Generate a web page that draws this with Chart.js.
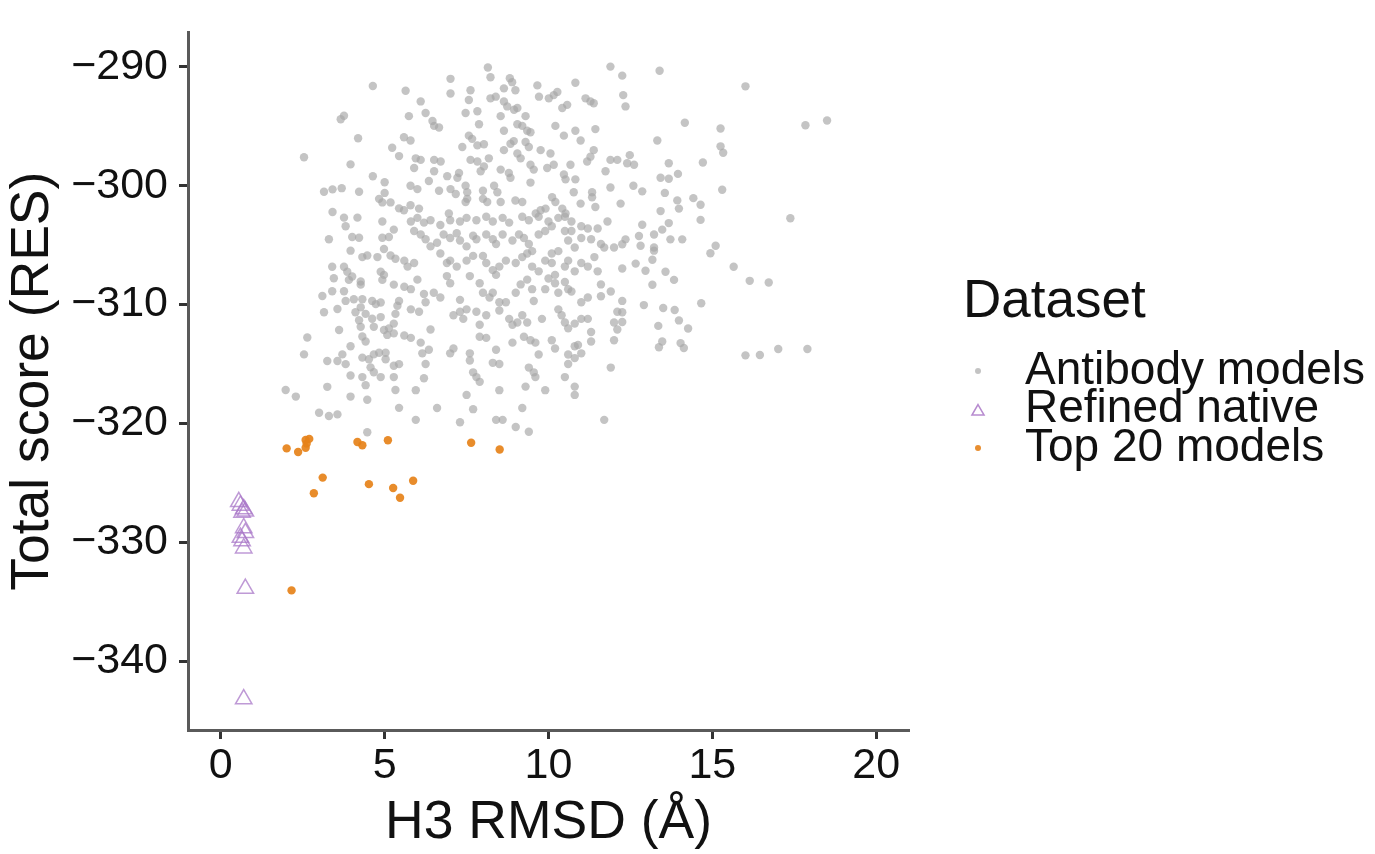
<!DOCTYPE html>
<html>
<head>
<meta charset="utf-8">
<script src="https://cdn.jsdelivr.net/npm/chart.js@4/dist/chart.umd.min.js"></script>
<style>
  html, body { margin: 0; padding: 0; background: #fff; }
  canvas { display: block; }
</style>
</head>
<body>
<canvas id="chart" width="1375" height="854"></canvas>
<script>
(() => {
  "use strict";

  const FONT = "'Liberation Sans', Arial, Helvetica, sans-serif";

  // Axis ticks
  const xTicks = [0, 5, 10, 15, 20];
  const yTicks = [-290, -300, -310, -320, -330, -340];

  const seriesNames = ["Antibody models", "Refined native", "Top 20 models"];
  const legendTitle = "Dataset";

  // [H3 RMSD, total score]
  const antibodyModels = [
    [4.64,-291.6],[3.76,-294.1],[3.66,-294.4],[4.19,-296.0],[5.23,-296.8],[5.44,-297.5],[2.54,-297.6],[3.96,-298.2],
    [4.64,-299.2],[5.0,-299.7],[3.15,-300.5],[3.41,-300.3],[3.69,-300.2],[4.22,-300.5],[5.0,-300.6],[4.83,-301.1],
    [4.93,-301.4],[5.18,-301.4],[5.44,-301.9],[3.41,-302.2],
    [8.15,-290.05],[8.23,-290.87],[11.89,-289.97],[7.01,-291.0],[8.82,-290.95],[8.89,-291.28],[8.99,-291.96],[5.64,-292.0],
    [7.01,-292.23],[7.62,-291.96],[9.66,-291.55],[9.71,-292.5],[10.82,-291.33],[8.64,-291.8],[10.01,-292.64],[10.16,-292.37],
    [10.27,-292.1],[11.13,-292.64],[11.28,-292.9],[11.38,-293.05],[6.1,-292.9],[7.57,-292.78],[8.23,-292.64],[8.39,-292.5],
    [8.64,-292.9],[8.74,-293.32],[10.42,-293.46],[10.57,-293.19],[5.74,-294.14],[6.25,-293.87],[7.47,-293.87],[7.83,-293.73],
    [8.54,-294.14],[8.95,-293.6],[9.05,-293.46],[9.3,-294.14],[6.46,-294.55],[6.51,-294.96],[6.66,-295.1],[7.88,-294.82],
    [9.05,-294.82],[9.2,-294.96],[9.35,-295.37],[9.45,-295.5],[10.21,-294.96],[10.82,-295.37],[11.43,-295.23],[8.64,-295.37],
    [10.47,-295.78],[5.59,-295.91],[5.79,-296.19],[7.57,-295.78],[7.67,-296.05],[7.83,-296.6],[8.03,-296.5],[7.37,-296.73],
    [8.84,-296.46],[8.94,-296.24],[9.3,-296.32],[9.4,-296.73],[10.98,-296.19],[9.76,-297.0],[10.06,-297.28],[8.64,-297.0],
    [9.05,-297.28],[9.15,-297.69],[11.38,-297.0],[11.28,-297.55],[11.18,-297.96],[11.89,-297.82],[12.1,-297.82],[5.95,-297.69],
    [6.1,-297.82],[6.51,-297.82],[6.71,-297.96],[7.62,-297.82],[7.83,-297.96],[8.18,-297.69],[8.54,-298.64],[8.03,-298.37],
    [7.93,-298.78],[9.45,-298.23],[9.55,-298.64],[9.96,-298.5],[10.16,-298.23],[10.67,-298.23],[5.9,-298.5],[6.51,-298.78],
    [6.91,-299.19],[7.27,-298.92],[7.22,-299.32],[6.35,-299.6],[8.79,-298.92],[8.84,-299.32],[10.47,-299.05],[10.52,-299.46],
    [10.82,-299.46],[9.45,-299.73],[11.74,-298.78],[11.89,-300.14],[5.79,-300.0],[6.0,-300.28],[6.66,-300.42],[7.01,-300.28],
    [7.17,-300.69],[7.47,-300.0],[7.52,-300.55],[8.0,-300.42],[8.34,-300.0],[8.44,-300.55],[8.99,-301.24],[9.2,-301.37],
    [10.11,-300.96],[10.21,-301.37],[10.42,-301.92],[10.52,-302.33],[10.77,-300.55],[11.33,-300.55],[11.33,-300.96],[11.43,-301.78],
    [10.98,-301.5],[9.61,-302.33],[9.76,-302.06],[9.91,-301.92],[5.59,-302.06],[5.79,-301.64],[6.05,-301.92],[6.96,-302.33],
    [7.47,-301.37],[7.52,-301.1],[8.0,-301.1],[8.13,-301.37],[8.54,-301.37],
    [12.25,-290.73],[13.39,-290.32],[16.01,-291.63],[12.28,-292.37],[12.35,-293.32],[14.16,-294.69],[15.25,-295.18],[17.84,-294.91],
    [18.5,-294.5],[13.32,-296.19],[15.25,-296.68],[15.33,-297.22],[12.48,-297.42],[12.4,-298.1],[12.61,-298.23],[13.67,-298.1],
    [14.71,-298.04],[13.42,-299.32],[13.67,-299.41],[13.95,-299.0],[12.59,-300.0],[12.86,-300.47],[13.55,-300.6],[15.3,-300.33],
    [14.42,-301.04],[14.64,-301.59],[13.93,-301.23],[13.98,-301.92],[13.42,-302.13],[12.2,-301.5],
    [3.76,-302.68],[4.17,-302.68],[3.81,-303.41],[3.3,-304.5],[4.01,-304.31],[4.22,-304.37],[4.93,-304.37],[5.13,-304.31],
    [4.93,-303.0],[5.28,-303.69],[3.96,-305.46],[4.32,-306.0],[4.47,-305.87],[4.78,-306.0],[4.98,-305.32],[5.18,-305.87],
    [5.33,-306.14],[3.4,-306.82],[3.76,-306.82],[3.86,-307.23],[4.01,-307.64],[3.91,-307.92],[4.27,-308.05],[4.27,-308.32],
    [3.45,-307.78],[4.88,-307.23],[4.98,-307.5],[4.93,-307.92],[5.28,-308.32],[3.1,-309.28],[3.4,-308.87],[3.76,-308.87],
    [3.81,-309.69],[4.06,-309.55],[4.32,-309.55],[4.27,-310.23],[4.62,-309.69],[4.73,-309.96],[4.88,-309.82],[3.56,-310.37],
    [3.15,-310.64],[4.11,-310.64],[4.22,-311.32],[4.27,-311.87],[4.42,-310.78],[4.62,-311.19],[4.88,-311.05],[4.67,-311.87],
    [4.98,-312.14],[5.13,-312.0],[5.28,-311.6],[5.33,-310.78],[5.44,-309.69],[5.39,-310.1],[3.61,-312.14],[2.64,-312.77],
    [4.32,-312.69],[4.42,-313.1],[5.08,-312.55],[5.28,-312.42],[3.96,-313.51],[2.54,-314.19],[3.25,-314.74],[3.56,-314.74],
    [3.71,-314.19],[3.81,-315.01],[4.32,-314.46],[4.52,-314.6],[4.67,-314.19],[4.83,-314.05],[4.57,-315.28],[4.67,-315.69],
    [5.03,-314.05],[5.03,-314.6],[5.28,-315.14],[5.44,-315.01],[3.96,-315.96],[4.32,-316.1],[4.42,-316.78],[4.88,-316.1],
    [5.28,-316.1],[5.33,-317.19],[3.25,-316.92],[1.98,-317.19],[2.29,-317.74],[3.96,-317.74],[4.47,-318.01],[5.44,-318.69],
    [3.0,-319.1],[3.3,-319.37],[3.56,-319.24],[4.47,-320.74],
    [5.8,-303.0],[6.0,-302.7],[6.2,-303.1],[6.4,-302.9],[6.7,-303.3],[7.0,-302.9],[7.3,-303.0],[7.5,-302.7],
    [7.8,-302.9],[8.1,-302.6],[8.3,-303.0],[8.6,-302.7],[8.8,-303.1],[9.2,-302.6],[9.4,-302.9],[9.7,-302.6],
    [10.0,-303.0],[10.3,-302.7],[10.5,-302.6],[10.7,-303.0],[11.0,-303.4],[11.2,-303.6],[11.5,-303.6],[11.8,-303.0],
    [10.1,-303.4],[10.5,-303.8],[10.7,-303.8],
    [5.9,-303.8],[6.1,-304.1],[6.25,-304.5],[6.4,-305.1],[6.6,-304.8],[6.8,-304.1],[7.0,-304.4],[7.2,-304.0],
    [7.3,-304.6],[7.5,-305.1],[7.7,-304.2],[7.8,-304.5],[8.1,-304.1],[8.3,-304.5],[8.4,-304.9],[8.6,-304.1],
    [8.9,-304.6],[9.1,-304.1],[9.25,-304.4],[9.4,-304.9],[9.5,-305.5],[9.7,-304.1],[9.9,-303.8],[10.1,-305.7],
    [10.3,-305.5],[10.6,-304.6],[10.8,-305.2],[11.0,-304.4],[11.3,-304.5],[11.6,-304.9],[12.0,-305.2],
    [5.6,-306.3],[5.7,-306.8],[5.9,-306.5],[6.7,-305.7],[6.9,-306.5],[7.0,-306.3],[7.2,-306.8],[7.5,-306.3],
    [7.7,-305.9],[8.0,-305.9],[8.1,-306.5],[8.3,-307.1],[8.4,-307.5],[8.5,-306.8],[8.7,-306.3],[9.0,-306.5],
    [9.2,-306.0],[9.35,-305.7],[9.5,-306.8],[9.7,-307.2],[9.9,-306.3],[10.1,-306.5],[10.2,-307.5],[10.5,-306.8],
    [10.6,-306.3],[10.8,-307.2],[11.0,-306.5],[11.2,-306.8],[11.4,-306.0],[11.5,-307.2],[11.7,-305.2],
    [5.6,-308.5],[5.8,-308.7],[6.0,-307.9],[6.2,-309.1],[6.5,-309.0],[6.7,-309.4],[6.9,-307.6],[7.0,-308.2],
    [7.3,-309.6],[7.6,-307.6],[7.9,-308.2],[8.0,-309.0],[8.2,-309.4],[8.3,-309.0],[8.5,-309.8],[8.7,-309.8],
    [9.0,-309.0],[9.15,-308.3],[9.35,-307.9],[9.5,-308.7],[9.55,-309.7],[9.9,-308.7],[10.0,-307.8],[10.2,-308.2],
    [10.3,-309.0],[10.5,-308.1],[10.6,-308.7],[10.7,-308.9],[11.0,-309.8],[11.2,-309.4],[11.6,-308.3],[11.6,-309.3],
    [11.9,-308.9],
    [5.8,-310.4],[6.05,-310.6],[6.25,-309.8],[6.4,-312.1],[7.1,-310.9],[7.3,-310.6],[7.4,-311.2],[7.5,-310.4],
    [7.8,-310.6],[7.9,-311.7],[8.1,-310.9],[8.5,-310.5],[8.8,-311.2],[8.9,-311.7],[9.05,-311.5],[9.2,-310.9],
    [9.35,-311.5],[9.8,-311.2],[10.3,-310.4],[10.4,-310.9],[10.5,-311.5],[10.6,-312.0],[10.8,-311.6],[11.0,-311.2],
    [11.2,-311.2],[11.3,-312.3],[12.0,-311.5],[12.1,-310.6],
    [5.6,-312.6],[5.8,-312.8],[6.1,-313.2],[6.35,-313.8],[6.15,-314.1],[7.0,-314.1],[7.1,-313.7],[7.6,-314.1],
    [7.9,-312.7],[8.1,-312.8],[8.4,-313.8],[8.9,-313.2],[9.25,-312.7],[9.45,-313.0],[9.6,-313.2],[9.7,-314.2],
    [10.1,-313.0],[10.2,-313.7],[10.6,-314.2],[10.8,-313.5],[10.9,-313.4],[11.0,-314.1],[11.3,-313.1],[12.0,-313.0],
    [12.1,-312.1],
    [6.25,-315.0],[7.6,-314.7],[7.7,-315.7],[7.8,-316.1],[7.9,-316.5],[8.3,-314.9],[8.5,-315.0],[9.4,-315.3],
    [9.55,-315.7],[9.6,-316.1],[10.5,-316.1],[10.6,-315.0],[10.8,-314.5],[11.9,-315.3],
    [5.95,-317.2],[6.2,-316.2],[7.5,-317.6],[8.5,-317.2],[9.3,-316.9],[9.9,-317.2],[10.8,-316.9],[10.8,-317.6],
    [6.6,-318.7],[7.7,-318.8],[9.2,-318.7],[5.95,-319.7],[7.3,-319.9],[8.4,-319.7],[8.6,-319.7],[9.0,-320.3],
    [11.7,-319.7],[9.4,-320.7],
    [12.86,-303.28],[13.67,-303.14],[14.64,-302.87],[17.38,-302.73],[12.35,-304.51],[12.25,-304.92],[12.76,-304.23],[13.22,-304.1],
    [13.47,-303.69],[13.72,-304.51],[14.08,-304.51],[12.81,-305.05],[13.22,-305.19],[13.22,-305.46],[13.17,-306.23],[12.66,-306.55],
    [12.96,-307.15],[12.25,-306.96],[13.57,-307.23],[13.83,-307.92],[13.17,-308.33],[15.1,-305.05],[14.94,-305.68],[15.65,-306.82],
    [16.14,-308.0],[16.72,-308.14],[12.25,-309.69],[12.25,-310.64],[12.25,-311.46],[12.91,-310.04],[13.5,-310.29],[13.85,-310.45],
    [14.66,-309.88],[13.98,-311.33],[13.35,-311.79],[14.26,-312.01],[13.47,-313.1],[13.37,-313.59],[14.03,-313.24],[14.13,-313.65],
    [16.01,-314.27],[16.45,-314.24],[17.01,-313.73],[17.9,-313.73]
  ];

  const refinedNative = [
    [0.55,-326.6],[0.6,-326.9],[0.7,-327.2],[0.65,-327.5],[0.75,-327.4],[0.7,-328.8],
    [0.75,-329.2],[0.6,-329.6],[0.65,-329.9],[0.7,-330.5],[0.75,-333.9],[0.7,-343.2]
  ];

  const top20Models = [
    [2.01,-322.1],[2.36,-322.4],[2.59,-321.4],[2.62,-321.7],[2.59,-322.05],[2.7,-321.3],
    [4.17,-321.56],[4.32,-321.83],[5.1,-321.42],[7.64,-321.62],[8.51,-322.19],[3.11,-324.56],
    [2.84,-325.87],[4.52,-325.11],[5.26,-325.43],[5.47,-326.25],[5.87,-324.83],[2.16,-334.05]
  ];

  const toXY = (arr) => arr.map(([x, y]) => ({ x, y }));
  const minus = (v) => (v < 0 ? "\u2212" + Math.abs(v) : String(v));

  const TEXT = "#111";
  const AXIS = "#5a5a5a";

  // ggplot style legend at the right
  const ggLegend = {
    id: "ggLegend",
    afterDraw(chart) {
      const ctx = chart.ctx;
      ctx.save();
      ctx.fillStyle = TEXT;
      ctx.textAlign = "left";
      ctx.textBaseline = "middle";
      ctx.font = `53px ${FONT}`;
      ctx.fillText(legendTitle, 963, 302);
      ctx.font = `46px ${FONT}`;
      const rows = [371, 409.5, 448];
      const keys = [
        { pointStyle: "circle", radius: 3, borderWidth: 0, fill: "rgba(170,170,170,0.7)", stroke: "transparent" },
        { pointStyle: "triangle", radius: 7, borderWidth: 1.5, fill: "transparent", stroke: "rgba(165,110,195,0.8)" },
        { pointStyle: "circle", radius: 3, borderWidth: 0, fill: "rgba(230,130,25,0.9)", stroke: "transparent" }
      ];
      seriesNames.forEach((name, i) => {
        const k = keys[i];
        ctx.fillStyle = k.fill;
        ctx.strokeStyle = k.stroke;
        ctx.lineWidth = k.borderWidth;
        Chart.helpers.drawPoint(ctx, { pointStyle: k.pointStyle, radius: k.radius, borderWidth: k.borderWidth, rotation: 0 }, 978, rows[i] + (k.pointStyle === "triangle" ? 2 : 0));
        ctx.fillStyle = TEXT;
        ctx.fillText(name, 1025, rows[i]);
      });
      ctx.restore();
    }
  };

  const tickFont = { family: FONT, size: 43, lineHeight: 1 };
  const titleFont = { family: FONT, size: 53.5, lineHeight: 1 };

  new Chart(document.getElementById("chart"), {
    type: "scatter",
    data: {
      datasets: [
        {
          label: seriesNames[0],
          data: toXY(antibodyModels),
          order: 3,
          pointRadius: 4.2,
          pointBorderWidth: 0,
          pointBackgroundColor: "rgba(168,168,168,0.68)"
        },
        {
          label: seriesNames[1],
          data: toXY(refinedNative),
          order: 2,
          pointStyle: "triangle",
          pointRadius: 9.5,
          pointBorderWidth: 1.5,
          pointBackgroundColor: "rgba(0,0,0,0)",
          pointBorderColor: "rgba(170,120,200,0.75)"
        },
        {
          label: seriesNames[2],
          data: toXY(top20Models),
          order: 1,
          pointRadius: 4.2,
          pointBorderWidth: 0,
          pointBackgroundColor: "rgba(230,130,25,0.92)"
        }
      ]
    },
    options: {
      responsive: false,
      animation: false,
      events: [],
      layout: { padding: { top: 12, right: 466, left: 0, bottom: 0 } },
      plugins: { legend: { display: false }, tooltip: { enabled: false } },
      scales: {
        x: {
          type: "linear",
          min: -1,
          max: 21,
          afterBuildTicks: (s) => { s.ticks = xTicks.map((v) => ({ value: v })); },
          afterFit: (s) => { s.height = 124; },
          ticks: { font: tickFont, color: TEXT, padding: 6, maxRotation: 0, autoSkip: false },
          grid: { display: true, drawOnChartArea: false, tickLength: 9, tickWidth: 3, tickColor: "#333" },
          border: { display: true, color: AXIS, width: 3 },
          title: { display: true, text: "H3 RMSD (Å)", font: titleFont, color: TEXT, padding: { top: 0, bottom: 4 } }
        },
        y: {
          type: "linear",
          min: -345.8,
          max: -287.1,
          afterBuildTicks: (s) => { s.ticks = yTicks.map((v) => ({ value: v })); },
          afterFit: (s) => { s.width = 188; },
          ticks: { font: tickFont, color: TEXT, padding: 11, callback: minus },
          grid: { display: true, drawOnChartArea: false, tickLength: 9, tickWidth: 3, tickColor: "#333" },
          border: { display: true, color: AXIS, width: 3 },
          title: { display: true, text: "Total score (RES)", font: titleFont, color: TEXT, padding: { top: 6, bottom: 0 } }
        }
      }
    },
    plugins: [ggLegend]
  });
})();
</script>
</body>
</html>
